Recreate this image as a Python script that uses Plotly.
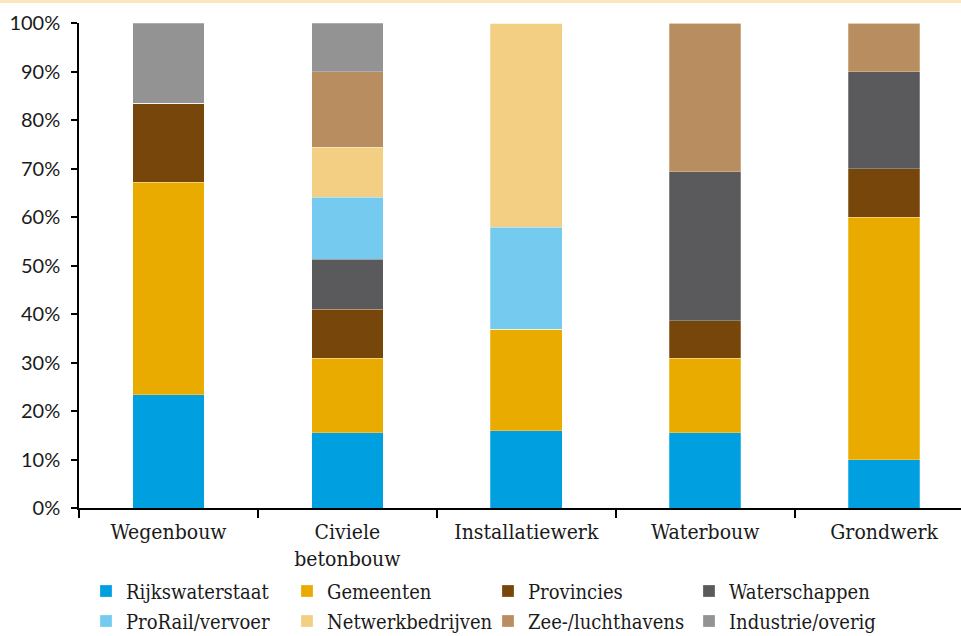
import plotly.graph_objects as go

categories = ["Wegenbouw", "Civiele<br>betonbouw", "Installatiewerk", "Waterbouw", "Grondwerk"]
series_names = ["Rijkswaterstaat", "Gemeenten", "Provincies", "Waterschappen",
                "ProRail/vervoer", "Netwerkbedrijven", "Zee-/luchthavens", "Industrie/overig"]
rijkswaterstaat = [23.3, 15.5, 15.9, 15.5, 10.0]
gemeenten = [43.9, 15.4, 21.0, 15.4, 50.0]
provincies = [16.3, 10.1, 0.0, 7.7, 10.0]
waterschappen = [0.0, 10.3, 0.0, 30.7, 20.0]
prorail = [0.0, 12.8, 21.0, 0.0, 0.0]
netwerkbedrijven = [0.0, 10.3, 42.1, 0.0, 0.0]
zeeluchthavens = [0.0, 15.5, 0.0, 30.7, 10.0]
industrie = [16.5, 10.1, 0.0, 0.0, 0.0]
y_ticks = [0, 10, 20, 30, 40, 50, 60, 70, 80, 90, 100]
y_tick_labels = [f"{v}%" for v in y_ticks]

series_values = [rijkswaterstaat, gemeenten, provincies, waterschappen,
                 prorail, netwerkbedrijven, zeeluchthavens, industrie]
colors = ["#009FE0", "#E9AB00", "#77460A", "#5A5A5C",
          "#74CBEF", "#F3CF84", "#B88E60", "#939393"]

SERIF = "DejaVu Serif Condensed, DejaVu Serif, serif"

fig = go.Figure()
for i, (name, vals, col) in enumerate(zip(series_names, series_values, colors)):
    fig.add_trace(go.Bar(
        name=name, x=categories, y=vals,
        marker=dict(color=col, line=dict(color="rgba(255,255,255,0.5)", width=0.5)),
        width=0.4,
        legend="legend" if i < 4 else "legend2",
    ))

W, H = 961, 636
ml, mr, mt, mb = 79, 0, 23, 128
ph = H - mt - mb
pw = W - ml - mr
bottom = mt + ph

def legend_cfg(row_center_px):
    return dict(
        orientation="h",
        x=(86 - ml) / pw, xanchor="left",
        y=-(row_center_px - bottom) / ph, yanchor="middle",
        entrywidth=156, entrywidthmode="pixels",
        font=dict(family=SERIF, size=20, color="#1a1a1a"),
        itemwidth=30,
        traceorder="normal",
        bgcolor="rgba(0,0,0,0)",
    )

fig.update_layout(
    width=W, height=H,
    barmode="stack",
    plot_bgcolor="white", paper_bgcolor="white",
    margin=dict(l=ml, r=mr, t=mt, b=mb, autoexpand=False),
    font=dict(family=SERIF, size=21, color="#1a1a1a"),
    xaxis=dict(
        range=[-0.5, 4.43],
        showline=True, linecolor="black", linewidth=1.5,
        ticks="outside", tickson="boundaries", ticklen=8, tickcolor="black", tickwidth=1.5,
        tickfont=dict(family=SERIF, size=21, color="#1a1a1a"),
        ticklabelstandoff=4,
        showgrid=False,
    ),
    yaxis=dict(
        range=[0, 100],
        tickvals=y_ticks, ticktext=y_tick_labels,
        showline=True, linecolor="black", linewidth=1.5,
        ticks="outside", ticklen=6, tickcolor="black", tickwidth=1.5,
        tickfont=dict(family="Lato, sans-serif", size=20, color="#1a1a1a"),
        ticklabelstandoff=7,
        showgrid=False, zeroline=False,
    ),
    legend=legend_cfg(591),
    legend2=legend_cfg(621),
    shapes=[dict(type="rect", xref="paper", yref="paper",
                 x0=-ml / pw, x1=1.0,
                 y0=1 + (mt - 3) / ph, y1=1 + mt / ph,
                 fillcolor="#FCE6BE", line=dict(width=0), layer="above")],
)

fig.write_html(
    "out.html",
    config={"displayModeBar": False},
    post_script="document.body.style.margin='0';document.body.style.overflow='hidden';",
)
